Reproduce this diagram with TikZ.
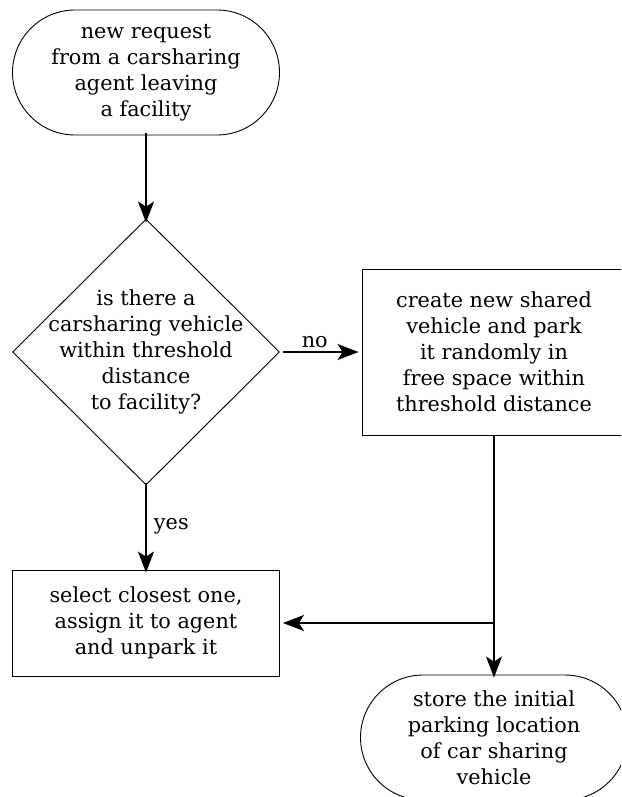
\documentclass[tikz,border=0pt]{standalone}
\usepackage{fontspec}
\setmainfont{DejaVu Serif}
\usetikzlibrary{shapes.misc,shapes.geometric,arrows.meta}
\tikzset{
  base/.style={draw, line width=0.9pt, inner sep=0pt},
  term/.style={base, rounded rectangle, minimum width=267pt, minimum height=125pt},
  proc/.style={base, rectangle},
  dia/.style={base, diamond, minimum width=267pt, minimum height=266pt, aspect=1},
  txt/.style={align=center, font=\fontsize{20.8}{26}\selectfont},
  conn/.style={line width=1.3pt, -{Stealth[length=21pt,width=16pt,inset=5pt]}},
  lbl/.style={font=\fontsize{20.8}{26}\selectfont}
}
\begin{document}
\begin{tikzpicture}[x=1pt,y=-1pt]
\useasboundingbox (0,0) rectangle (621,797);
\clip (0,0) rectangle (621,797);
\node[term] (start) at (146,72.5) {};
\node[txt] at (start) {new request\\from a carsharing\\agent leaving\\a facility};
\node[dia] (dec) at (146,352) {};
\node[txt] at (dec) {is there a\\carsharing vehicle\\within threshold\\distance\\to facility?};
\node[proc, minimum width=264pt, minimum height=166pt] (create) at (494,352) {};
\node[txt] at (create) {create new shared\\vehicle and park\\it randomly in\\free space within\\threshold distance};
\node[proc, minimum width=267pt, minimum height=106pt] (select) at (146,623) {};
\node[txt] at (select) {select closest one,\\assign it to agent\\and unpark it};
\node[term] (store) at (494,737.5) {};
\node[txt] at (store) {store the initial\\parking location\\of car sharing\\vehicle};
\coordinate (j) at (create.south |- select.east);
\draw[conn] ([yshift=2pt]start.south) -- ([yshift=-4pt]dec.north);
\draw[conn] ([xshift=3pt]dec.east) -- node[lbl, above, xshift=-6pt] {no} ([xshift=-3pt]create.west);
\draw[conn] ([yshift=2pt]dec.south) -- node[lbl, right, xshift=4pt, yshift=2pt] {yes} ([yshift=-3pt]select.north);
\draw[line width=1.3pt] (create.south) -- (j);
\draw[conn] (j) -- ([yshift=-3pt]store.north);
\draw[conn] (j) -- ([xshift=3pt]select.east);
\end{tikzpicture}
\end{document}
